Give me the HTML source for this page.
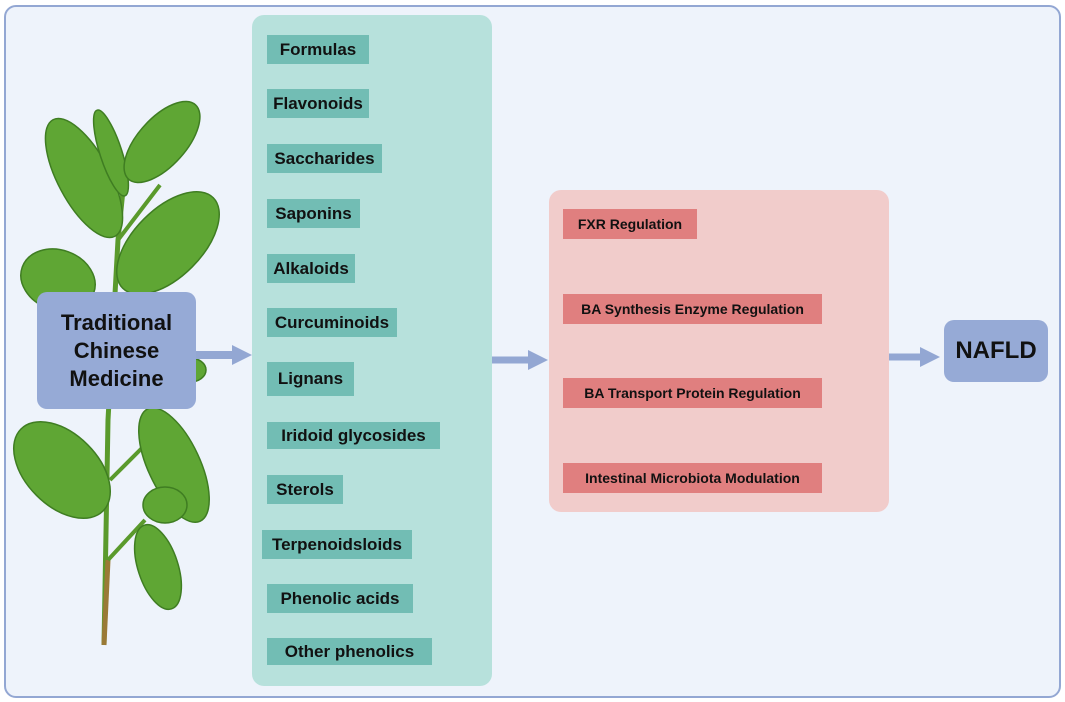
<!DOCTYPE html>
<html><head><meta charset="utf-8"><style>
body{margin:0;width:1065px;height:702px;background:#fff;position:relative;overflow:hidden;font-family:"Liberation Sans",sans-serif;}
.outer{position:absolute;left:4px;top:5px;width:1053px;height:689px;border:2px solid #93a7d3;border-radius:12px;background:#eef3fb;}
.abs{position:absolute;}
.teal{position:absolute;left:252px;top:15px;width:240px;height:671px;background:#b7e1dc;border-radius:12px;}
.t{position:absolute;background:#72bdb4;font-weight:bold;font-size:17px;color:#111;display:flex;align-items:center;justify-content:center;height:29px;}
.pink{position:absolute;left:549px;top:190px;width:340px;height:322px;background:#f1cccb;border-radius:12px;}
.p{position:absolute;background:#e07f7f;font-weight:bold;font-size:14px;color:#111;display:flex;align-items:center;justify-content:center;height:30px;left:563px;}
.blue{position:absolute;background:#96aad6;border-radius:10px;font-weight:bold;color:#111;display:flex;align-items:center;justify-content:center;text-align:center;}
</style></head><body>
<div class="outer"></div>
<svg class="abs" style="left:0;top:0" width="260" height="702">
<path d="M104 645 L108 420 L118 240 L126 160" fill="none" stroke="#5a9a2c" stroke-width="5"/>
<path d="M104 645 L108 560" fill="none" stroke="#9a7a36" stroke-width="5"/>
<path d="M118 240 L160 185 M110 480 L150 440 M108 560 L145 520" fill="none" stroke="#5a9a2c" stroke-width="4"/>
<g fill="#5fa634" stroke="#3f7d22" stroke-width="1.5">
<ellipse cx="84" cy="178" rx="26" ry="66" transform="rotate(-28 84 178)"/>
<ellipse cx="111" cy="153" rx="11" ry="45" transform="rotate(-18 111 153)"/>
<ellipse cx="162" cy="142" rx="24" ry="50" transform="rotate(42 162 142)"/>
<ellipse cx="168" cy="243" rx="34" ry="64" transform="rotate(45 168 243)"/>
<ellipse cx="58" cy="280" rx="38" ry="30" transform="rotate(20 58 280)"/>
<ellipse cx="190" cy="370" rx="16" ry="12"/>
<ellipse cx="62" cy="470" rx="36" ry="58" transform="rotate(-45 62 470)"/>
<ellipse cx="174" cy="465" rx="26" ry="62" transform="rotate(-25 174 465)"/>
<ellipse cx="165" cy="505" rx="22" ry="18"/>
<ellipse cx="158" cy="567" rx="20" ry="44" transform="rotate(-18 158 567)"/>
</g>
<path d="M196 355 H234" stroke="#93a7d3" stroke-width="8"/>
<path d="M232 345 L252 355 L232 365Z" fill="#93a7d3"/>
</svg>
<div class="blue" style="left:37px;top:292px;width:159px;height:117px;font-size:22px;line-height:28px;">Traditional<br>Chinese<br>Medicine</div>
<div class="teal"></div>
<div class="t" style="left:267px;top:35px;width:102px">Formulas</div>
<div class="t" style="left:267px;top:89px;width:102px">Flavonoids</div>
<div class="t" style="left:267px;top:144px;width:115px">Saccharides</div>
<div class="t" style="left:267px;top:199px;width:93px">Saponins</div>
<div class="t" style="left:267px;top:254px;width:88px">Alkaloids</div>
<div class="t" style="left:267px;top:308px;width:130px">Curcuminoids</div>
<div class="t" style="left:267px;top:362px;width:87px;height:34px">Lignans</div>
<div class="t" style="left:267px;top:422px;width:173px;height:27px">Iridoid glycosides</div>
<div class="t" style="left:267px;top:475px;width:76px">Sterols</div>
<div class="t" style="left:262px;top:530px;width:150px">Terpenoidsloids</div>
<div class="t" style="left:267px;top:584px;width:146px">Phenolic acids</div>
<div class="t" style="left:267px;top:638px;width:165px;height:27px">Other phenolics</div>
<svg class="abs" style="left:490px;top:340px" width="460" height="40">
<path d="M2 20 H40" stroke="#93a7d3" stroke-width="7"/>
<path d="M38 10 L58 20 L38 30Z" fill="#93a7d3"/>
<path d="M399 17 H432" stroke="#93a7d3" stroke-width="7"/>
<path d="M430 7 L450 17 L430 27Z" fill="#93a7d3"/>
</svg>
<div class="pink"></div>
<div class="p" style="top:209px;width:134px">FXR Regulation</div>
<div class="p" style="top:294px;width:259px">BA Synthesis Enzyme Regulation</div>
<div class="p" style="top:378px;width:259px">BA Transport Protein Regulation</div>
<div class="p" style="top:463px;width:259px">Intestinal Microbiota Modulation</div>
<div class="blue" style="left:944px;top:320px;width:104px;height:62px;font-size:24px;">NAFLD</div>
</body></html>
